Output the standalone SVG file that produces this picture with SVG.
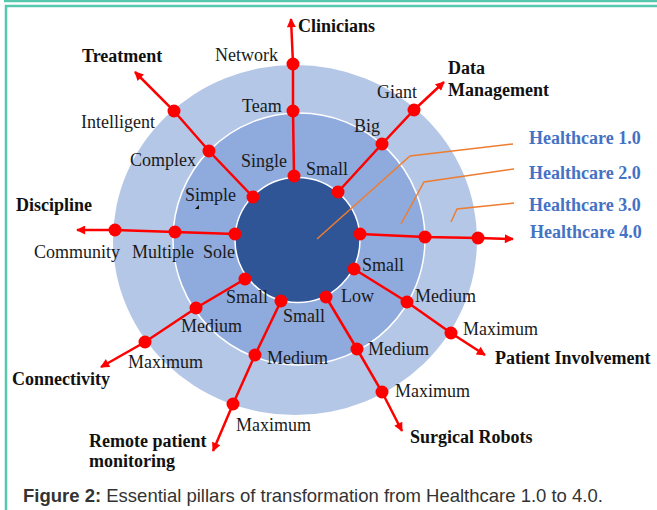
<svg xmlns="http://www.w3.org/2000/svg" width="657" height="510" viewBox="0 0 657 510">
<style>
.lbl{font-family:"Liberation Serif","Times New Roman",serif;font-size:18px;fill:#1a1a1a}
.bld{font-family:"Liberation Serif","Times New Roman",serif;font-size:18px;font-weight:bold;fill:#111}
.hc{font-family:"Liberation Serif","Times New Roman",serif;font-size:18px;font-weight:bold;fill:#4472c4}
.spoke{fill:none;stroke:#ff0000;stroke-width:2.5;marker-end:url(#arr)}
.dot{fill:#ff0000}
.call{fill:none;stroke:#ed7d31;stroke-width:1.5}
.frame{stroke:#55c8ae;stroke-width:2.5;fill:none}
.cap{font-family:"Liberation Sans",Arial,sans-serif;font-size:18.5px;fill:#333}
</style>
<defs>
<marker id="arr" viewBox="0 0 10 10" refX="9" refY="5" markerWidth="12" markerHeight="9" orient="auto" markerUnits="userSpaceOnUse">
<path d="M0,0 L10,5 L0,10 Z" fill="#ff0000"/>
</marker>
</defs>
<rect width="657" height="510" fill="#ffffff"/>
<g id="frame">
<line class="frame" x1="4" y1="1" x2="657" y2="1"/>
<polyline class="frame" points="6,510 6,6 657,6"/>
</g>
<g id="rings">
<ellipse id="ring-hc3" cx="295" cy="240" rx="182" ry="175" fill="#b4c7e7"/>
<circle id="ring-hc2" cx="299" cy="239" r="126" fill="#8faadc" stroke="#ffffff" stroke-width="1.5"/>
<circle id="ring-hc1" cx="297.5" cy="240" r="62.5" fill="#2f5597" stroke="#ffffff" stroke-width="1.5"/>
</g>
<g id="callouts">
<polyline class="call" points="513,144 410,156 317,239"/>
<polyline class="call" points="514,169 424,182 401,224"/>
<polyline class="call" points="514,203 457,209 451,222"/>
</g>
<g id="connectors">
<polyline class="spoke" points="294,176 293,111 293,64 291,19"/>
<polyline class="spoke" points="253,197 209,151 174,111 135,72"/>
<polyline class="spoke" points="235,234 175,232 115,230 77,230"/>
<polyline class="spoke" points="338,192 382,144 414,110 444,82"/>
<polyline class="spoke" points="360,234 425,237 478,238 513,239"/>
<polyline class="spoke" points="354,269 407,302 451,333 485,355"/>
<polyline class="spoke" points="326,297 357,349 382,392 402,431"/>
<polyline class="spoke" points="281,301 255,355 233,404 213,451"/>
<polyline class="spoke" points="245,279 196,308 145,342 101,367"/>
</g>
<g id="node-clinicians">
<circle class="dot" cx="294" cy="176" r="6.5"/><circle class="dot" cx="293" cy="111" r="6.5"/><circle class="dot" cx="293" cy="64" r="6.5"/>
<text class="bld" x="298" y="32">Clinicians</text>
<text class="lbl" x="215" y="61">Network</text>
<text class="lbl" x="242" y="112">Team</text>
<text class="lbl" x="241" y="167">Single</text>
</g>
<g id="node-treatment">
<circle class="dot" cx="253" cy="197" r="6.5"/><circle class="dot" cx="209" cy="151" r="6.5"/><circle class="dot" cx="174" cy="111" r="6.5"/>
<text class="bld" x="82" y="62">Treatment</text>
<text class="lbl" x="81" y="128">Intelligent</text>
<text class="lbl" x="130" y="166">Complex</text>
<text class="lbl" x="185" y="201">Simple</text>
<polygon points="199,205 199,209 195,209" fill="#111"/>
</g>
<g id="node-discipline">
<circle class="dot" cx="235" cy="234" r="6.5"/><circle class="dot" cx="175" cy="232" r="6.5"/><circle class="dot" cx="115" cy="230" r="6.5"/>
<text class="bld" x="16" y="211">Discipline</text>
<text class="lbl" x="34" y="258">Community</text>
<text class="lbl" x="132" y="258">Multiple</text>
<text class="lbl" x="203" y="258">Sole</text>
</g>
<g id="node-data-management">
<circle class="dot" cx="338" cy="192" r="6.5"/><circle class="dot" cx="382" cy="144" r="6.5"/><circle class="dot" cx="414" cy="110" r="6.5"/>
<text class="bld" x="448" y="74">Data</text>
<text class="bld" x="448" y="96">Management</text>
<text class="lbl" x="377" y="98">Giant</text>
<text class="lbl" x="354" y="132">Big</text>
<text class="lbl" x="306" y="175">Small</text>
</g>
<g id="node-healthcare4">
<circle class="dot" cx="360" cy="234" r="6.5"/><circle class="dot" cx="425" cy="237" r="6.5"/><circle class="dot" cx="478" cy="238" r="6.5"/>
</g>
<g id="node-patient-involvement">
<circle class="dot" cx="354" cy="269" r="6.5"/><circle class="dot" cx="407" cy="302" r="6.5"/><circle class="dot" cx="451" cy="333" r="6.5"/>
<text class="lbl" x="362" y="271">Small</text>
<text class="lbl" x="415" y="302">Medium</text>
<text class="lbl" x="463" y="335">Maximum</text>
<text class="bld" x="495" y="364">Patient Involvement</text>
</g>
<g id="node-surgical-robots">
<circle class="dot" cx="326" cy="297" r="6.5"/><circle class="dot" cx="357" cy="349" r="6.5"/><circle class="dot" cx="382" cy="392" r="6.5"/>
<text class="lbl" x="341" y="302">Low</text>
<text class="lbl" x="368" y="355">Medium</text>
<text class="lbl" x="395" y="397">Maximum</text>
<text class="bld" x="410" y="443">Surgical Robots</text>
</g>
<g id="node-remote-monitoring">
<circle class="dot" cx="281" cy="301" r="6.5"/><circle class="dot" cx="255" cy="355" r="6.5"/><circle class="dot" cx="233" cy="404" r="6.5"/>
<text class="lbl" x="283" y="322">Small</text>
<text class="lbl" x="267" y="364">Medium</text>
<text class="lbl" x="236" y="431">Maximum</text>
<text class="bld" x="89" y="447">Remote patient</text>
<text class="bld" x="89" y="467">monitoring</text>
</g>
<g id="node-connectivity">
<circle class="dot" cx="245" cy="279" r="6.5"/><circle class="dot" cx="196" cy="308" r="6.5"/><circle class="dot" cx="145" cy="342" r="6.5"/>
<text class="lbl" x="226" y="303">Small</text>
<text class="lbl" x="181" y="332">Medium</text>
<text class="lbl" x="128" y="368">Maximum</text>
<text class="bld" x="12" y="385">Connectivity</text>
</g>
<g id="legend">
<text class="hc" x="529" y="144">Healthcare 1.0</text>
<text class="hc" x="529" y="179">Healthcare 2.0</text>
<text class="hc" x="529" y="211">Healthcare 3.0</text>
<text class="hc" x="530" y="238">Healthcare 4.0</text>
</g>
<g id="caption">
<text class="cap" x="23" y="502"><tspan font-weight="bold">Figure 2:</tspan> Essential pillars of transformation from Healthcare 1.0 to 4.0.</text>
</g>
</svg>
